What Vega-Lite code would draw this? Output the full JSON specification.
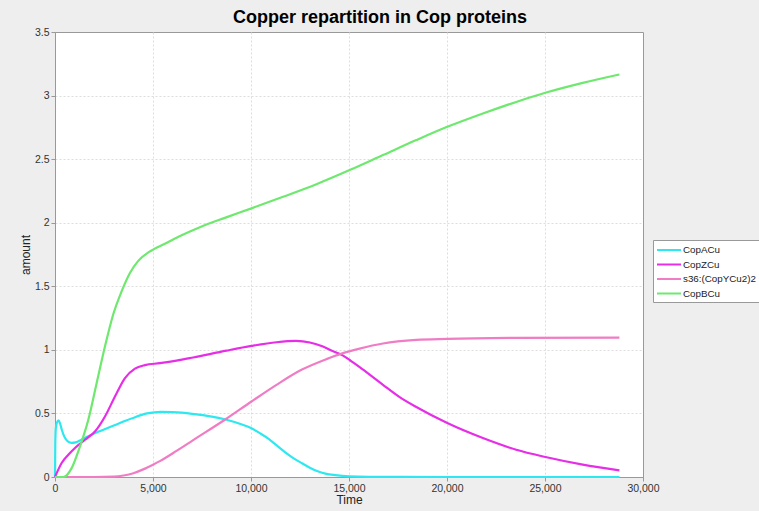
{
  "$schema": "https://vega.github.io/schema/vega-lite/v6.json",
  "autosize": {"type": "none"},
  "width": 588,
  "height": 445,
  "padding": {"left": 55, "top": 32, "right": 116, "bottom": 34},
  "background": "#eeeeee",
  "title": {"text": "Copper repartition in Cop proteins", "font": "Liberation Sans", "fontSize": 18, "fontWeight": "bold", "color": "#000000", "anchor": "middle", "dx": 31, "offset": 0},
  "config": {
    "view": {"fill": "white", "stroke": "#999999"},
    "axis": {"labelFont": "Liberation Sans", "labelFontSize": 10.5, "labelColor": "#333333", "labelFlush": false, "labelOverlap": false, "titleFont": "Liberation Sans", "titleFontSize": 12, "titleFontWeight": "normal", "titleColor": "#222222", "domainColor": "#999999", "tickColor": "#999999", "tickSize": 4, "labelPadding": 2, "gridColor": "#dddddd", "gridDash": [2, 2]}
  },
  "data": {"values": [
    {"t": 0, "v": 0, "s": "CopACu"},
    {"t": 15, "v": 0.25, "s": "CopACu"},
    {"t": 40, "v": 0.38, "s": "CopACu"},
    {"t": 100, "v": 0.43, "s": "CopACu"},
    {"t": 180, "v": 0.445, "s": "CopACu"},
    {"t": 260, "v": 0.42, "s": "CopACu"},
    {"t": 350, "v": 0.37, "s": "CopACu"},
    {"t": 500, "v": 0.31, "s": "CopACu"},
    {"t": 650, "v": 0.28, "s": "CopACu"},
    {"t": 850, "v": 0.268, "s": "CopACu"},
    {"t": 1050, "v": 0.272, "s": "CopACu"},
    {"t": 1300, "v": 0.29, "s": "CopACu"},
    {"t": 1700, "v": 0.32, "s": "CopACu"},
    {"t": 2200, "v": 0.355, "s": "CopACu"},
    {"t": 3000, "v": 0.405, "s": "CopACu"},
    {"t": 3900, "v": 0.46, "s": "CopACu"},
    {"t": 4700, "v": 0.5, "s": "CopACu"},
    {"t": 5400, "v": 0.512, "s": "CopACu"},
    {"t": 6000, "v": 0.51, "s": "CopACu"},
    {"t": 7000, "v": 0.497, "s": "CopACu"},
    {"t": 8000, "v": 0.475, "s": "CopACu"},
    {"t": 8750, "v": 0.45, "s": "CopACu"},
    {"t": 9500, "v": 0.415, "s": "CopACu"},
    {"t": 10000, "v": 0.385, "s": "CopACu"},
    {"t": 10500, "v": 0.34, "s": "CopACu"},
    {"t": 10900, "v": 0.3, "s": "CopACu"},
    {"t": 11300, "v": 0.25, "s": "CopACu"},
    {"t": 11700, "v": 0.2, "s": "CopACu"},
    {"t": 12100, "v": 0.155, "s": "CopACu"},
    {"t": 12600, "v": 0.108, "s": "CopACu"},
    {"t": 13000, "v": 0.073, "s": "CopACu"},
    {"t": 13400, "v": 0.045, "s": "CopACu"},
    {"t": 13800, "v": 0.027, "s": "CopACu"},
    {"t": 14300, "v": 0.015, "s": "CopACu"},
    {"t": 15000, "v": 0.005, "s": "CopACu"},
    {"t": 16000, "v": 0.001, "s": "CopACu"},
    {"t": 20000, "v": 0, "s": "CopACu"},
    {"t": 25000, "v": 0, "s": "CopACu"},
    {"t": 28800, "v": 0, "s": "CopACu"},
    {"t": 0, "v": 0, "s": "CopZCu"},
    {"t": 340, "v": 0.11, "s": "CopZCu"},
    {"t": 680, "v": 0.175, "s": "CopZCu"},
    {"t": 1020, "v": 0.228, "s": "CopZCu"},
    {"t": 1530, "v": 0.293, "s": "CopZCu"},
    {"t": 2040, "v": 0.358, "s": "CopZCu"},
    {"t": 2550, "v": 0.476, "s": "CopZCu"},
    {"t": 3060, "v": 0.633, "s": "CopZCu"},
    {"t": 3570, "v": 0.778, "s": "CopZCu"},
    {"t": 4080, "v": 0.852, "s": "CopZCu"},
    {"t": 4590, "v": 0.88, "s": "CopZCu"},
    {"t": 5350, "v": 0.895, "s": "CopZCu"},
    {"t": 6200, "v": 0.915, "s": "CopZCu"},
    {"t": 7050, "v": 0.94, "s": "CopZCu"},
    {"t": 8750, "v": 0.994, "s": "CopZCu"},
    {"t": 10025, "v": 1.031, "s": "CopZCu"},
    {"t": 11300, "v": 1.06, "s": "CopZCu"},
    {"t": 12300, "v": 1.07, "s": "CopZCu"},
    {"t": 13000, "v": 1.058, "s": "CopZCu"},
    {"t": 13600, "v": 1.03, "s": "CopZCu"},
    {"t": 14100, "v": 0.995, "s": "CopZCu"},
    {"t": 14700, "v": 0.955, "s": "CopZCu"},
    {"t": 15035, "v": 0.92, "s": "CopZCu"},
    {"t": 15545, "v": 0.865, "s": "CopZCu"},
    {"t": 15886, "v": 0.825, "s": "CopZCu"},
    {"t": 16734, "v": 0.725, "s": "CopZCu"},
    {"t": 17584, "v": 0.628, "s": "CopZCu"},
    {"t": 18435, "v": 0.55, "s": "CopZCu"},
    {"t": 20015, "v": 0.424, "s": "CopZCu"},
    {"t": 21830, "v": 0.306, "s": "CopZCu"},
    {"t": 23532, "v": 0.214, "s": "CopZCu"},
    {"t": 25025, "v": 0.157, "s": "CopZCu"},
    {"t": 26927, "v": 0.097, "s": "CopZCu"},
    {"t": 28797, "v": 0.052, "s": "CopZCu"},
    {"t": 0, "v": 0, "s": "s36:(CopYCu2)2"},
    {"t": 2000, "v": 0, "s": "s36:(CopYCu2)2"},
    {"t": 3000, "v": 0.003, "s": "s36:(CopYCu2)2"},
    {"t": 3500, "v": 0.012, "s": "s36:(CopYCu2)2"},
    {"t": 4000, "v": 0.03, "s": "s36:(CopYCu2)2"},
    {"t": 4500, "v": 0.06, "s": "s36:(CopYCu2)2"},
    {"t": 5000, "v": 0.097, "s": "s36:(CopYCu2)2"},
    {"t": 5350, "v": 0.125, "s": "s36:(CopYCu2)2"},
    {"t": 6200, "v": 0.205, "s": "s36:(CopYCu2)2"},
    {"t": 7050, "v": 0.29, "s": "s36:(CopYCu2)2"},
    {"t": 8665, "v": 0.45, "s": "s36:(CopYCu2)2"},
    {"t": 10025, "v": 0.594, "s": "s36:(CopYCu2)2"},
    {"t": 11300, "v": 0.725, "s": "s36:(CopYCu2)2"},
    {"t": 12575, "v": 0.843, "s": "s36:(CopYCu2)2"},
    {"t": 13848, "v": 0.927, "s": "s36:(CopYCu2)2"},
    {"t": 14695, "v": 0.974, "s": "s36:(CopYCu2)2"},
    {"t": 15545, "v": 1.01, "s": "s36:(CopYCu2)2"},
    {"t": 16734, "v": 1.05, "s": "s36:(CopYCu2)2"},
    {"t": 18435, "v": 1.078, "s": "s36:(CopYCu2)2"},
    {"t": 20015, "v": 1.086, "s": "s36:(CopYCu2)2"},
    {"t": 23532, "v": 1.094, "s": "s36:(CopYCu2)2"},
    {"t": 28797, "v": 1.097, "s": "s36:(CopYCu2)2"},
    {"t": 0, "v": 0, "s": "CopBCu"},
    {"t": 425, "v": 0, "s": "CopBCu"},
    {"t": 850, "v": 0.07, "s": "CopBCu"},
    {"t": 1274, "v": 0.24, "s": "CopBCu"},
    {"t": 1700, "v": 0.45, "s": "CopBCu"},
    {"t": 2124, "v": 0.738, "s": "CopBCu"},
    {"t": 2548, "v": 1.026, "s": "CopBCu"},
    {"t": 2973, "v": 1.28, "s": "CopBCu"},
    {"t": 3398, "v": 1.46, "s": "CopBCu"},
    {"t": 3823, "v": 1.605, "s": "CopBCu"},
    {"t": 4248, "v": 1.7, "s": "CopBCu"},
    {"t": 4800, "v": 1.77, "s": "CopBCu"},
    {"t": 5607, "v": 1.835, "s": "CopBCu"},
    {"t": 6300, "v": 1.89, "s": "CopBCu"},
    {"t": 7390, "v": 1.965, "s": "CopBCu"},
    {"t": 8700, "v": 2.04, "s": "CopBCu"},
    {"t": 10025, "v": 2.113, "s": "CopBCu"},
    {"t": 11636, "v": 2.204, "s": "CopBCu"},
    {"t": 13338, "v": 2.303, "s": "CopBCu"},
    {"t": 15035, "v": 2.414, "s": "CopBCu"},
    {"t": 16734, "v": 2.532, "s": "CopBCu"},
    {"t": 18435, "v": 2.65, "s": "CopBCu"},
    {"t": 20015, "v": 2.754, "s": "CopBCu"},
    {"t": 21830, "v": 2.859, "s": "CopBCu"},
    {"t": 23532, "v": 2.95, "s": "CopBCu"},
    {"t": 25060, "v": 3.024, "s": "CopBCu"},
    {"t": 26927, "v": 3.1, "s": "CopBCu"},
    {"t": 28797, "v": 3.166, "s": "CopBCu"}
  ]},
  "mark": {"type": "line", "interpolate": "monotone", "strokeWidth": 2.2},
  "encoding": {
    "x": {"field": "t", "type": "quantitative", "title": "Time", "scale": {"domain": [0, 30000], "nice": false}, "axis": {"values": [0, 5000, 10000, 15000, 20000, 25000, 30000], "format": ",d", "titlePadding": 1, "gridOpacity": {"condition": {"test": "datum.value === 30000 || datum.value === 0", "value": 0}, "value": 1}}},
    "y": {"field": "v", "type": "quantitative", "title": "amount", "scale": {"domain": [0, 3.5], "nice": false}, "axis": {"values": [0, 0.5, 1, 1.5, 2, 2.5, 3, 3.5], "format": "~g", "titlePadding": 2, "gridOpacity": {"condition": {"test": "datum.value === 3.5 || datum.value === 0", "value": 0}, "value": 1}}},
    "color": {"field": "s", "type": "nominal", "sort": null,
      "scale": {"domain": ["CopACu", "CopZCu", "s36:(CopYCu2)2", "CopBCu"], "range": ["#2ee8f0", "#e62ee6", "#f07cc4", "#6ee86e"]},
      "legend": {"title": null, "orient": "none", "legendX": 598, "legendY": 208, "fillColor": "white", "strokeColor": "#999999", "padding": 3, "symbolType": "M-1,0H3", "symbolStrokeWidth": 2, "symbolSize": 144, "labelFont": "Liberation Sans", "labelFontSize": 9.8, "labelColor": "#222222", "rowPadding": 2.5, "labelOffset": 13}
    }
  }
}
